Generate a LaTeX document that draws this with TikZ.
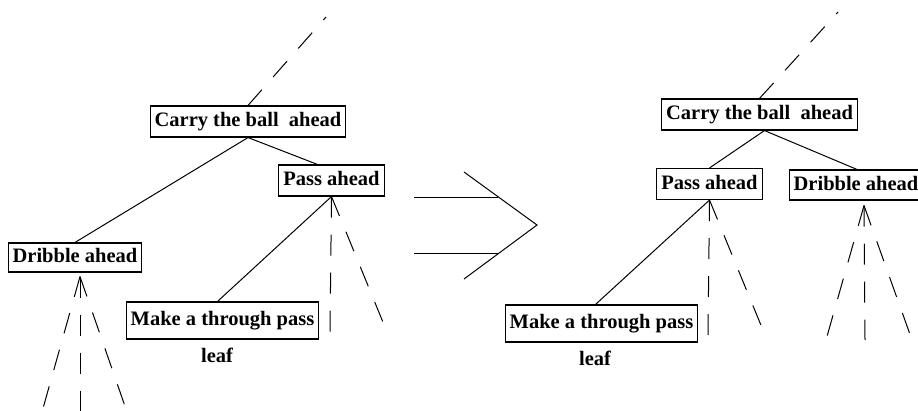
\documentclass[tikz,border=0pt]{standalone}
\usepackage{fontspec}
\setmainfont{Liberation Serif}
\usetikzlibrary{arrows.meta,positioning}

\begin{document}
\begin{tikzpicture}[x=1pt,y=-1pt,
    box/.style={draw,line width=1.1pt,font=\fontsize{20.5}{24}\selectfont\bfseries,
        inner xsep=4.5pt,inner ysep=0pt,minimum height=31pt,text height=14pt,text depth=4pt},
    tag/.style={font=\fontsize{20.5}{24}\selectfont\bfseries,inner sep=0pt,text height=14pt,text depth=4pt},
    link/.style={line width=1pt},
    branch/.style={line width=1pt,dash pattern=on 21pt off 17pt}]
    \useasboundingbox (0,0) rectangle (918,410);
    \clip (0,0) rectangle (918,410);

    % tree before the move
    \node[box] (carryL) at (248,121.5) {Carry the ball~~ahead};
    \node[box] (passL) at (331.5,180.5) {Pass ahead};
    \node[box,minimum height=29pt] (dribbleL) at (75,257.5) {Dribble ahead};
    \node[box,minimum height=37pt] (makeL) at (222.5,320.5) {Make a through pass};
    \node[tag] (leafL) at (217,357) {leaf};

    \coordinate (topL) at (326,17);
    \coordinate (passLd) at (330,332);
    \coordinate (passLr) at (387,332);
    \coordinate (apexL) at ([xshift=5pt,yshift=-4pt]dribbleL.south);

    \draw[branch] (carryL.north) -- (topL);
    \draw[link] (carryL.south) -- ([xshift=-14pt]passL.north);
    \draw[link] (carryL.south) -- (dribbleL.north);
    \draw[link] (passL.south) -- ([xshift=-5pt]makeL.north);
    \draw[branch] (passL.south) -- (passLd);
    \draw[branch] (passL.south) -- (passLr);
    \draw[branch] (apexL) -- (42,412);
    \draw[branch] (apexL) -- (80,412);
    \draw[branch] (apexL) -- (127,412);

    % the big arrow
    \coordinate (barT1) at (414,197);
    \coordinate (barT2) at (498,197);
    \coordinate (barB1) at (414,253);
    \coordinate (barB2) at (498,253);
    \coordinate (headT) at (464,172);
    \coordinate (head) at (537,225);
    \coordinate (headB) at (464,279);

    \draw[link] (barT1) -- (barT2);
    \draw[link] (barB1) -- (barB2);
    \draw[link] (headT) -- (head) -- (headB);

    % tree after the move
    \node[box] (carryR) at (759.5,114.5) {Carry the ball~~ahead};
    \node[box] (passR) at (709.5,184) {Pass ahead};
    \node[box,minimum height=30pt] (dribbleR) at (856,185) {Dribble ahead};
    \node[box,minimum height=37pt] (makeR) at (601.5,323.5) {Make a through pass};
    \node[tag] (leafR) at (595,360) {leaf};

    \coordinate (topR) at (838,12);
    \coordinate (passRd) at (708,335);
    \coordinate (passRr) at (765,335);
    \coordinate (apexR) at ([xshift=8pt,yshift=-5pt]dribbleR.south);

    \draw[branch] (carryR.north) -- (topR);
    \draw[link] ([xshift=5pt]carryR.south) -- (passR.north);
    \draw[link] ([xshift=5pt]carryR.south) -- ([xshift=1pt]dribbleR.north);
    \draw[link] (passR.south) -- ([xshift=-6pt]makeR.north);
    \draw[branch] (passR.south) -- (passRd);
    \draw[branch] (passR.south) -- (passRr);
    \draw[branch] (apexR) -- (826,340);
    \draw[branch] (apexR) -- (865,340);
    \draw[branch] (apexR) -- (912,340);
\end{tikzpicture}
\end{document}
